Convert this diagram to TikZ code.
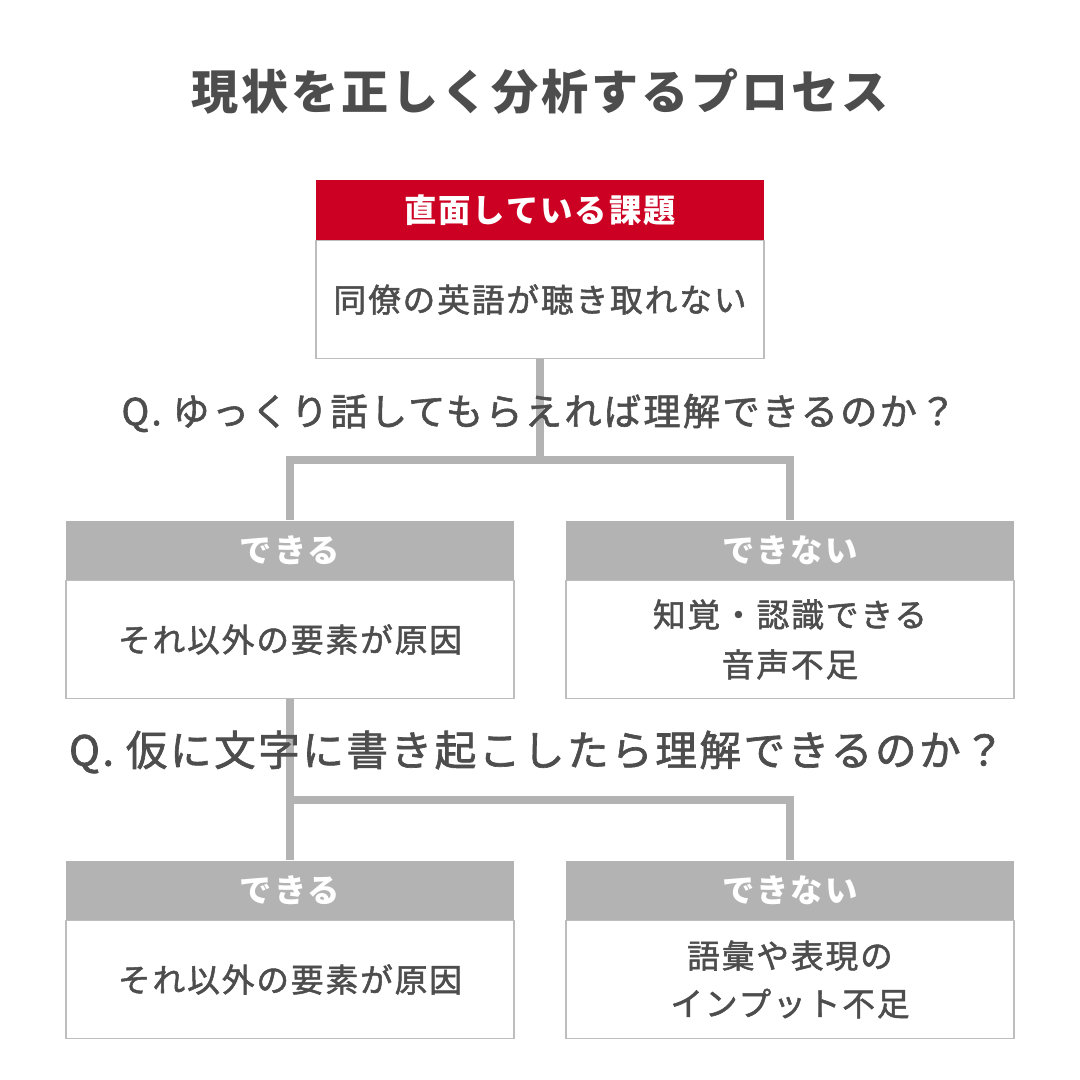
\documentclass[tikz,border=0pt]{standalone}
\usepackage{fontspec}
\setmainfont{Noto Sans CJK JP}[LetterSpace=6]
\newfontfamily\jpm{Noto Sans CJK JP}[LetterSpace=6, FakeBold=1.6]
\definecolor{hdred}{HTML}{CC0022}
\definecolor{hdgray}{HTML}{B3B3B3}
\definecolor{txt}{HTML}{4D4D4D}
\definecolor{rim}{HTML}{BDBDBD}
\begin{document}
\begin{tikzpicture}[x=0.025cm, y=-0.025cm,
		hd/.style={rectangle, fill=hdgray, text=white, minimum width=11.2cm, minimum height=1.5cm, inner sep=0pt,
			font=\bfseries\fontsize{23}{27}\selectfont},
		bd/.style={rectangle, draw=rim, line width=1.1pt, fill=white, text=txt, minimum width=11.2cm, minimum height=2.95cm,
			inner sep=0pt, align=center, font=\jpm\fontsize{23.2}{35.5}\selectfont},
		q/.style={text=txt, inner sep=0pt},
		ln/.style={draw=hdgray, line width=0.2cm, line join=miter}]
			\useasboundingbox (0, 0) rectangle (1080, 1080);

			\node[text=txt, font=\bfseries\fontsize{33.5}{38}\selectfont] (title) at (540, 92) {現状を正しく分析するプロセス};

			\node[hd, fill=hdred] (tophd) at (540, 210.5) {直面している課題};
			\node[bd] (topbd) at (540, 299.5) {同僚の英語が聴き取れない};

			\node[hd] (lhd1) at (290, 550.5) {できる};
			\node[bd] (lbd1) at (290, 639.5) {それ以外の要素が原因};
			\node[hd] (rhd1) at (790, 550.5) {できない};
			\node[bd] (rbd1) at (790, 639.5) {知覚・認識できる\\音声不足};

			\node[hd] (lhd2) at (290, 890.5) {できる};
			\node[bd] (lbd2) at (290, 979.5) {それ以外の要素が原因};
			\node[hd] (rhd2) at (790, 890.5) {できない};
			\node[bd, font=\jpm\fontsize{23.2}{34}\selectfont] (rbd2) at (790, 979.5) {語彙や表現の\\インプット不足};

			\coordinate (j1) at (540, 460);
			\coordinate (j2) at (290, 800);
			\draw[ln] (topbd.south) -- (j1);
			\draw[ln] (lhd1.north) |- (j1) -| (rhd1.north);
			\draw[ln] (lbd1.south) -- (lhd2.north);
			\draw[ln] (j2) -| (rhd2.north);

			\node[q, font=\jpm\fontsize{26.5}{30}\selectfont] (q1) at (539, 413) {Q. ゆっくり話してもらえれば理解できるのか？};
			\node[q, font=\jpm\fontsize{29.6}{34}\selectfont] (q2) at (537, 752) {Q. 仮に文字に書き起こしたら理解できるのか？};
		\end{tikzpicture}
\end{document}
